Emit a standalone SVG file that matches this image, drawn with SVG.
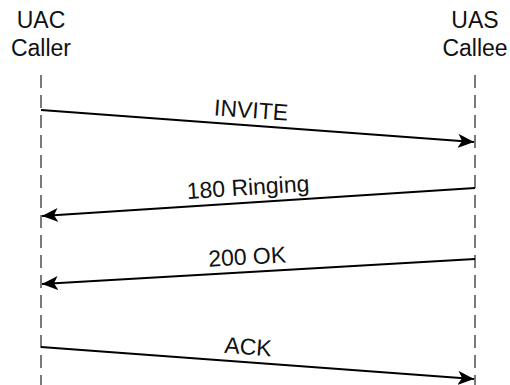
<svg xmlns="http://www.w3.org/2000/svg" width="510" height="385" viewBox="0 0 510 385">
<style>
text{font-family:"Liberation Sans",Arial,sans-serif;font-size:23px;fill:#111;}
.life{stroke:#333;stroke-width:1.3;stroke-dasharray:13 7;fill:none;}
.msg{stroke:#000;stroke-width:2.2;fill:none;marker-end:url(#ah);}
</style>
<defs>
<marker id="ah" markerUnits="userSpaceOnUse" markerWidth="18" markerHeight="14" refX="16" refY="7" orient="auto">
<path d="M0,0 L16,7 L0,14 L4,7 Z" fill="#000"/>
</marker>
</defs>
<rect width="510" height="385" fill="#fff"/>
<g id="uac">
<text x="41" y="28" text-anchor="middle">UAC</text>
<text x="41" y="56" text-anchor="middle">Caller</text>
<line class="life" x1="41" y1="75" x2="41" y2="385"/>
</g>
<g id="uas">
<text x="475" y="28" text-anchor="middle">UAS</text>
<text x="475" y="56" text-anchor="middle">Callee</text>
<line class="life" x1="475" y1="75" x2="475" y2="385"/>
</g>
<g id="connectors">
<line class="msg" x1="41" y1="110" x2="474" y2="142"/>
<text x="250" y="118" text-anchor="middle" transform="rotate(4.2 250 125.5)">INVITE</text>
<line class="msg" x1="475" y1="188" x2="42" y2="216"/>
<text x="249" y="195" text-anchor="middle" transform="rotate(-3.7 249 202.6)">180 Ringing</text>
<line class="msg" x1="475" y1="259" x2="42" y2="284"/>
<text x="248" y="264.5" text-anchor="middle" transform="rotate(-3.3 248 272)">200 OK</text>
<line class="msg" x1="41" y1="347" x2="474" y2="379"/>
<text x="247" y="354.5" text-anchor="middle" transform="rotate(4.2 247 362.2)">ACK</text>
</g>
</svg>
